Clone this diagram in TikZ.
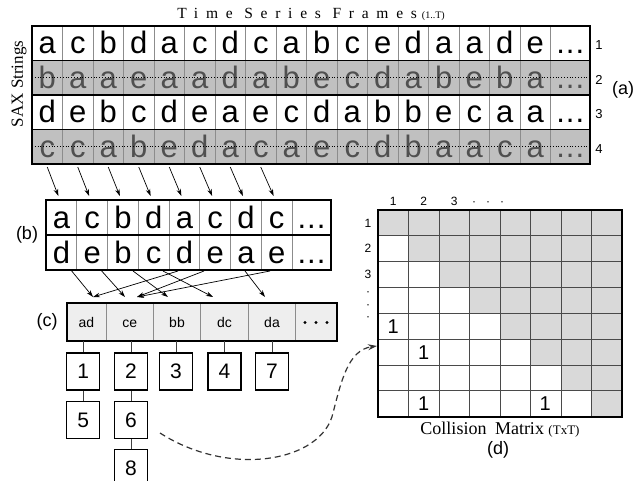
\documentclass[tikz,border=0pt]{standalone}
\usepackage{fontspec}
\setmainfont{Liberation Serif}
\setsansfont{Liberation Sans}
\newfontfamily\arial{Liberation Sans}
\newfontfamily\spaced[LetterSpace=50]{Liberation Serif}
\usetikzlibrary{arrows.meta}
\definecolor{topgray}{HTML}{C0C0C0}
\definecolor{lgray}{HTML}{505050}
\definecolor{sepgray}{HTML}{8C8C8C}
\definecolor{cfill}{HTML}{EEEEEE}
\definecolor{mgray}{HTML}{D9D9D9}
\definecolor{mgrid}{HTML}{4A4A4A}
\begin{document}
\begin{tikzpicture}[x=1pt,y=-1pt,
  lett/.style={font=\arial\fontsize{31}{31}\selectfont, anchor=base, inner sep=0pt, text=black},
  glett/.style={lett, text=lgray},
  sepline/.style={draw=sepgray, line width=0.9pt},
  border/.style={draw=black, line width=1.8pt},
  hsep/.style={draw=black, line width=1.4pt},
  arr/.style={-{Stealth[length=7pt,width=4.5pt]}, line width=0.7pt},
  numbox/.style={draw, line width=1.3pt, minimum width=33pt, minimum height=37pt, inner sep=0pt, font=\arial\fontsize{21}{21}\selectfont},
  link/.style={draw=black!75, line width=0.8pt},
  mlab/.style={font=\arial\fontsize{12}{12}\selectfont, inner sep=0pt},
  mone/.style={font=\arial\fontsize{20}{20}\selectfont, inner sep=0pt},
  plabel/.style={font=\arial\fontsize{18}{18}\selectfont, inner sep=0pt},
  clab/.style={font=\arial\fontsize{14}{14}\selectfont, inner sep=0pt, anchor=base}
]
\useasboundingbox (0,0) rectangle (636,481);

% ---------- (a) top grid ----------
\fill[topgray] (32,60.5) rectangle (590,95);
\fill[topgray] (32,129.5) rectangle (590,164);
\foreach \k in {1,...,17} \draw[sepline] ({32+30.5*\k},26) -- ({32+30.5*\k},164);

\foreach \l [count=\i] in {a,c,b,d,a,c,d,c,a,b,c,e,d,a,a,d,e}
  \node[lett] (ta\i) at ({32+30.5*(\i-0.5)},54) {\l};
\foreach \l [count=\i] in {b,a,a,e,a,a,d,a,b,e,c,d,a,b,e,b,a}
  \node[glett] (tb\i) at ({32+30.5*(\i-0.5)},88.5) {\l};
\foreach \l [count=\i] in {d,e,b,c,d,e,a,e,c,d,a,b,b,e,c,a,a}
  \node[lett] (tc\i) at ({32+30.5*(\i-0.5)},123) {\l};
\foreach \l [count=\i] in {c,c,a,b,e,d,a,c,a,e,c,d,b,a,a,c,a}
  \node[glett] (td\i) at ({32+30.5*(\i-0.5)},157.5) {\l};
\node[lett] (tadots) at (570.25,54) {.\kern1pt.\kern1pt.};
\node[glett] (tbdots) at (570.25,88.5) {.\kern1pt.\kern1pt.};
\node[lett] (tcdots) at (570.25,123) {.\kern1pt.\kern1pt.};
\node[glett] (tddots) at (570.25,157.5) {.\kern1pt.\kern1pt.};

\foreach \yy in {77.75,146.75} \draw[dotted, line width=0.8pt] (32,\yy) -- (590,\yy);
\foreach \yy in {60.5,95,129.5} \draw[hsep] (32,\yy) -- (590,\yy);
\draw[border] (32,26) rectangle (590,164);

\node[font=\arial\fontsize{13}{13}\selectfont] (rl1) at (599,45) {1};
\node[font=\arial\fontsize{13}{13}\selectfont] (rl2) at (599,80) {2};
\node[font=\arial\fontsize{13}{13}\selectfont] (rl3) at (599,114) {3};
\node[font=\arial\fontsize{13}{13}\selectfont] (rl4) at (599,149) {4};
\node[plabel] (lba) at (623,90) {(a)};

\node[inner sep=0pt] (title) at (311,14) {\spaced\fontsize{15.5}{15.5}\selectfont Time Series Frames\hspace{5pt}{\rmfamily\fontsize{10}{10}\selectfont(1..T)}};
\node[rotate=90, inner sep=0pt, font=\rmfamily\fontsize{17}{17}\selectfont] (sax) at (19,84) {SAX Strings};

% ---------- arrows (a) -> (b) ----------
\foreach \k in {1,...,8} {
  \coordinate (ts\k) at ({32+30.5*(\k-0.5)},167);
  \coordinate (be\k) at ({46+30.75*(\k-0.5)-3},196);
  \draw[arr] (ts\k) -- (be\k);
}

% ---------- (b) grid ----------
\foreach \k in {1,...,8} \draw[sepline] ({46+30.75*\k},200) -- ({46+30.75*\k},270);
\foreach \l [count=\i] in {a,c,b,d,a,c,d,c}
  \node[lett] (ba\i) at ({46+30.75*(\i-0.5)},228) {\l};
\foreach \l [count=\i] in {d,e,b,c,d,e,a,e}
  \node[lett] (bb\i) at ({46+30.75*(\i-0.5)},263) {\l};
\node[lett] (badots) at (311.5,228) {.\kern1pt.\kern1pt.};
\node[lett] (bbdots) at (311.5,263) {.\kern1pt.\kern1pt.};
\draw[hsep] (46,235) -- (331,235);
\draw[border] (46,200) rectangle (331,270);
\node[plabel] (lbb) at (27,235) {(b)};

% ---------- arrows (b) -> (c) ----------
\coordinate (bs1) at (71.7,271);
\coordinate (bs2) at (101.7,271);
\coordinate (bs3) at (133,271);
\coordinate (bs4) at (163,271);
\coordinate (bs5) at (178,271);
\coordinate (bs6) at (204,271);
\coordinate (bs7) at (245,271);
\coordinate (bs8) at (270,271);
\coordinate (tad) at (93,297);
\coordinate (tce1) at (125,297);
\coordinate (tce2) at (137,297);
\coordinate (tbb) at (168,297);
\coordinate (tdc) at (213,297);
\coordinate (tda) at (265,297);
\draw[arr] (bs1) -- (tad);
\draw[arr] (bs5) -- (tad);
\draw[arr] (bs2) -- (tce1);
\draw[arr] (bs6) -- (tce2);
\draw[arr] (bs8) -- (tce2);
\draw[arr] (bs3) -- (tbb);
\draw[arr] (bs4) -- (tdc);
\draw[arr] (bs7) -- (tda);

% ---------- (c) row ----------
\fill[cfill] (66.7,303.3) rectangle (336.7,341);
\foreach \xx in {106,153.3,200.7,248.3,295.7} \draw[sepline] (\xx,303.3) -- (\xx,341);
\draw[border] (66.7,303.3) rectangle (336.7,341);
\node[clab] (cad) at (86.3,327) {ad};
\node[clab] (cce) at (129.7,327) {ce};
\node[clab] (cbb) at (177,327) {bb};
\node[clab] (cdc) at (224.5,327) {dc};
\node[clab] (cda) at (272,327) {da};
\foreach \xx [count=\i] in {305,316,327} \fill (\xx,322.5) circle[radius=1.7pt] coordinate (cdot\i);
\node[plabel] (lbc) at (47,322) {(c)};

% ---------- buckets ----------
\node[numbox] (n1) at (83.3,371.5) {1};
\node[numbox] (n2) at (131,371.5) {2};
\node[numbox] (n3) at (176,371.5) {3};
\node[numbox] (n4) at (224.5,371.5) {4};
\node[numbox] (n7) at (272,371.5) {7};
\node[numbox] (n5) at (83.3,420.2) {5};
\node[numbox] (n6) at (131,420.2) {6};
\node[numbox] (n8) at (131,468) {8};
\coordinate (cb1) at (83.3,341);
\coordinate (cb2) at (131,341);
\coordinate (cb3) at (176,341);
\coordinate (cb4) at (224.5,341);
\coordinate (cb7) at (272,341);
\draw[link] (cb1) -- (n1.north);
\draw[link] (cb2) -- (n2.north);
\draw[link] (cb3) -- (n3.north);
\draw[link] (cb4) -- (n4.north);
\draw[link] (cb7) -- (n7.north);
\draw[link] (n1.south) -- (n5.north);
\draw[link] (n2.south) -- (n6.north);
\draw[link] (n6.south) -- (n8.north);

% ---------- (d) collision matrix ----------
\foreach \i in {1,...,8} \foreach \j in {\i,...,8}
  \fill[mgray] ({378+30.5*(\j-1)},{210+25.84*(\i-1)}) rectangle ({378+30.5*\j},{210+25.84*\i});
\foreach \k in {1,...,7} {
  \draw[mgrid, line width=0.8pt] ({378+30.5*\k},210) -- ({378+30.5*\k},416.7);
  \draw[mgrid, line width=0.8pt] (378,{210+25.84*\k}) -- (622,{210+25.84*\k});
}
\draw[border] (378,210) rectangle (622,416.7);
\node[mone] (m51) at (393.25,326.3) {1};
\node[mone] (m62) at (423.75,352.2) {1};
\node[mone] (m82) at (423.75,403.8) {1};
\node[mone] (m86) at (545.25,403.8) {1};
\node[mlab] (mc1) at (393.25,201) {1};
\node[mlab] (mc2) at (423.75,201) {2};
\node[mlab] (mc3) at (454.25,201) {3};
\node[mlab] (mcd1) at (474,204) {·};
\node[mlab] (mcd2) at (488,204) {·};
\node[mlab] (mcd3) at (502,204) {·};
\node[mlab] (mr1) at (368,223) {1};
\node[mlab] (mr2) at (368,248.7) {2};
\node[mlab] (mr3) at (368,274.5) {3};
\node[mlab] (mrd1) at (368,294) {·};
\node[mlab] (mrd2) at (368,306.5) {·};
\node[mlab] (mrd3) at (368,319) {·};
\node[inner sep=0pt] (mcap) at (500,430) {\rmfamily\fontsize{18}{18}\selectfont Collision\hspace{4pt} Matrix {\fontsize{13}{13}\selectfont(TxT)}};
\node[plabel] (lbd) at (498,450) {(d)};

% ---------- dashed link ----------
\coordinate (dstart) at (160,433);
\coordinate (dmid) at (333,413);
\coordinate (mrow6) at (377,346);
\draw[dashed, dash pattern=on 6pt off 4pt, line width=1.2pt, draw=black!80, -{Stealth[length=9pt,width=6pt]}]
  (dstart) .. controls (230,478) and (322,462) .. (dmid) .. controls (341,382) and (348,350) .. (mrow6);
\end{tikzpicture}
\end{document}
